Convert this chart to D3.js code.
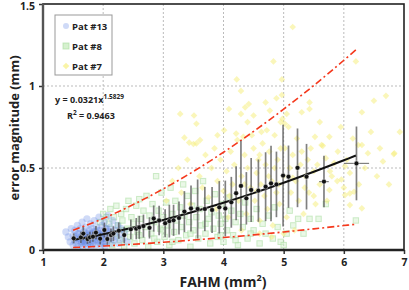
<!DOCTYPE html>
<html>
<head>
<meta charset="utf-8">
<script src="https://cdn.jsdelivr.net/npm/d3@7"></script>
<style>
body{margin:0;background:#fff;}
svg text{font-family:"Open Sans","Liberation Sans",sans-serif;font-weight:bold;fill:#222;}
</style>
</head>
<body>
<div id="chart"></div>
<script>
// scatter points [FAHM, error]
var pat13=[[1.38,0.11],[1.42,0.08],[1.45,0.05],[1.47,0.13],[1.5,0.03],[1.5,0.09],[1.52,0.06],[1.53,0.12],[1.55,0.04],[1.56,0.08],[1.57,0.15],[1.58,0.02],[1.6,0.06],[1.6,0.1],[1.62,0.13],[1.63,0.04],[1.64,0.08],[1.65,0.17],[1.66,0.02],[1.67,0.06],[1.68,0.11],[1.7,0.04],[1.7,0.09],[1.71,0.14],[1.72,0.07],[1.73,0.19],[1.74,0.03],[1.75,0.1],[1.76,0.05],[1.77,0.12],[1.78,0.08],[1.79,0.16],[1.8,0.02],[1.8,0.06],[1.81,0.1],[1.82,0.13],[1.83,0.04],[1.84,0.08],[1.85,0.18],[1.86,0.06],[1.87,0.11],[1.88,0.03],[1.89,0.14],[1.9,0.08],[1.91,0.05],[1.92,0.1],[1.93,0.2],[1.94,0.07],[1.95,0.12],[1.96,0.03],[1.97,0.09],[1.98,0.15],[1.99,0.05],[2.0,0.11],[2.01,0.07],[2.02,0.17],[2.03,0.02],[2.04,0.13],[2.05,0.09],[2.06,0.05],[2.08,0.21],[2.09,0.11],[2.1,0.07],[2.12,0.14],[2.13,0.04],[2.15,0.1],[2.16,0.18],[2.18,0.06],[2.2,0.12],[2.22,0.08],[2.24,0.15],[2.26,0.04],[2.28,0.1],[2.3,0.13],[2.33,0.07],[2.36,0.11],[2.4,0.05],[1.62,0.07],[1.68,0.05],[1.74,0.09],[1.78,0.04],[1.84,0.11],[1.9,0.12],[1.96,0.06],[2.0,0.04],[2.06,0.13],[1.72,0.1],[1.86,0.09],[1.94,0.1],[1.58,0.1],[1.66,0.09],[1.7,0.06],[1.76,0.08],[1.82,0.07],[1.88,0.09],[1.92,0.06],[1.98,0.08],[2.04,0.07],[2.1,0.1],[1.64,0.05],[1.54,0.07]];
var pat8=[[1.95,0.17],[2.0,0.22],[2.05,0.2],[2.1,0.16],[2.12,0.25],[2.15,0.03],[2.18,0.2],[2.2,0.1],[2.22,0.27],[2.25,0.15],[2.28,0.06],[2.3,0.22],[2.32,0.18],[2.35,0.02],[2.38,0.25],[2.4,0.13],[2.42,0.3],[2.45,0.08],[2.47,0.2],[2.5,0.16],[2.52,0.04],[2.55,0.27],[2.57,0.11],[2.6,0.31],[2.62,0.19],[2.65,0.06],[2.67,0.24],[2.7,0.14],[2.72,0.33],[2.75,0.02],[2.77,0.21],[2.8,0.1],[2.82,0.28],[2.85,0.17],[2.88,0.45],[2.9,0.05],[2.92,0.24],[2.95,0.13],[2.97,0.35],[3.0,0.2],[3.02,0.08],[3.05,0.29],[3.08,0.15],[3.1,0.03],[3.12,0.38],[3.15,0.22],[3.18,0.11],[3.2,0.3],[3.23,0.18],[3.25,0.06],[3.28,0.26],[3.3,0.14],[3.33,0.4],[3.35,0.21],[3.38,0.09],[3.4,0.33],[3.43,0.17],[3.45,0.02],[3.48,0.27],[3.5,0.12],[3.53,0.36],[3.55,0.2],[3.58,0.07],[3.6,0.25],[3.63,0.15],[3.66,0.42],[3.7,0.1],[3.72,0.3],[3.75,0.19],[3.78,0.04],[3.8,0.23],[3.83,0.13],[3.86,0.34],[3.9,0.08],[3.92,0.21],[3.95,0.16],[3.98,0.28],[4.0,0.05],[4.03,0.19],[4.06,0.12],[4.1,0.32],[4.13,0.24],[4.16,0.09],[4.2,0.17],[4.24,0.03],[4.28,0.22],[4.32,0.14],[4.36,0.29],[4.4,0.07],[4.45,0.19],[4.5,0.12],[4.55,0.25],[4.6,0.04],[4.65,0.16],[4.7,0.1],[4.75,0.21],[4.82,0.07],[4.9,0.14],[4.95,0.05],[5.05,0.1],[5.1,0.24],[5.16,0.15],[5.24,0.19],[5.33,0.1],[5.43,0.19],[5.58,0.19],[5.7,0.28],[6.2,0.18],[5.0,0.03],[4.85,0.26],[2.6,0.09],[2.85,0.07],[3.15,0.05],[3.45,0.1],[3.7,0.16],[3.95,0.09],[4.2,0.06],[4.45,0.1],[2.35,0.12],[3.0,0.12]];
var pat7=[[4.22,1.04],[4.29,0.97],[4.09,0.86],[4.36,0.87],[4.42,0.89],[4.29,0.83],[3.28,0.83],[3.51,0.82],[3.55,0.77],[3.35,0.685],[3.43,0.655],[3.5,0.646],[3.55,0.65],[3.61,0.67],[4.01,0.73],[4.21,0.71],[4.23,0.67],[4.33,0.69],[4.47,0.7],[4.63,0.72],[4.72,0.73],[5.15,1.36],[4.83,1.15],[6.2,1.15],[4.97,1.04],[4.88,0.925],[4.97,0.945],[5.43,0.9],[5.43,0.86],[5.3,0.84],[6.5,0.91],[6.7,0.94],[6.3,0.84],[6.93,0.72],[5.76,0.69],[5.52,0.69],[5.63,0.64],[6.3,0.64],[4.77,0.85],[6.6,0.62],[6.83,0.585],[6.65,0.54],[5.65,0.635],[6.1,0.47],[6.02,0.51],[5.96,0.43],[5.89,0.42],[5.77,0.48],[5.84,0.53],[5.76,0.366],[6.02,0.335],[6.1,0.345],[6.17,0.355],[6.1,0.274],[6.3,0.254],[6.24,0.64],[6.4,0.59],[6.84,0.59],[3.05,0.3],[3.15,0.42],[3.25,0.5],[3.3,0.35],[3.4,0.55],[3.45,0.28],[3.6,0.45],[3.65,0.38],[3.7,0.58],[3.75,0.32],[3.8,0.5],[3.85,0.62],[3.88,0.25],[3.9,0.42],[3.95,0.55],[4.0,0.36],[4.05,0.48],[4.08,0.2],[4.12,0.6],[4.15,0.4],[4.18,0.52],[4.25,0.3],[4.3,0.45],[4.35,0.58],[4.38,0.22],[4.4,0.5],[4.45,0.38],[4.5,0.62],[4.52,0.3],[4.55,0.47],[4.58,0.55],[4.6,0.18],[4.62,0.4],[4.65,0.65],[4.68,0.33],[4.7,0.52],[4.73,0.25],[4.76,0.6],[4.8,0.42],[4.82,0.15],[4.85,0.7],[4.88,0.35],[4.9,0.55],[4.93,0.28],[4.95,0.78],[5.0,0.45],[5.02,0.62],[5.05,0.2],[5.08,0.75],[5.1,0.5],[5.12,0.35],[5.15,0.58],[5.18,0.12],[5.2,0.42],[5.22,0.68],[5.25,0.3],[5.28,0.52],[5.3,0.6],[5.33,0.22],[5.36,0.45],[5.4,0.55],[5.42,0.35],[5.45,0.62],[5.5,0.48],[5.53,0.28],[5.56,0.52],[5.6,0.4],[5.7,0.56],[5.72,0.3],[5.8,0.45],[5.9,0.6],[6.0,0.38],[6.05,0.55],[4.8,0.08],[4.6,0.1],[4.3,0.12],[5.0,0.1],[4.95,0.62],[5.05,0.83],[4.98,0.8],[5.02,0.77],[4.4,0.78],[4.5,0.82],[3.9,0.7],[4.7,0.9],[5.6,0.78],[5.95,0.75],[6.15,0.68],[6.45,0.72],[6.35,0.5],[6.55,0.45],[6.75,0.4],[6.25,0.4],[4.1,0.33],[4.35,0.4],[4.55,0.36],[4.75,0.45],[4.92,0.4],[5.15,0.44],[5.35,0.38],[5.5,0.33],[4.6,0.58],[4.85,0.5]];

// binned means with error bars
var meanX=[1.51,1.63,1.67,1.74,1.78,1.83,1.88,1.95,2.02,2.07,2.13,2.17,2.26,2.35,2.46,2.55,2.60,2.67,2.77,2.84,2.93,3.03,3.10,3.17,3.26,3.35,3.46,3.57,3.69,3.81,3.93,4.03,4.13,4.21,4.29,4.38,4.46,4.58,4.70,4.79,4.88,4.99,5.08,5.23,5.38,5.67,6.21];
var meanY=[0.071,0.077,0.10,0.067,0.077,0.081,0.106,0.069,0.122,0.067,0.091,0.10,0.118,0.091,0.126,0.13,0.138,0.146,0.135,0.192,0.18,0.163,0.176,0.181,0.195,0.234,0.253,0.25,0.25,0.244,0.26,0.253,0.291,0.346,0.391,0.315,0.366,0.362,0.386,0.406,0.40,0.454,0.447,0.501,0.447,0.417,0.528];
var errY=[0.03,0.035,0.04,0.03,0.035,0.03,0.04,0.035,0.045,0.035,0.04,0.045,0.05,0.05,0.06,0.065,0.07,0.07,0.065,0.08,0.09,0.085,0.1,0.095,0.1,0.125,0.14,0.18,0.135,0.14,0.16,0.17,0.155,0.165,0.275,0.16,0.195,0.19,0.21,0.23,0.2,0.31,0.19,0.24,0.2,0.157,0.225];
var errX=[0,0,0,0,0,0,0,0,0,0,0,0,0,0,0,0,0,0,0,0,0,0,0,0,0,0,0,0,0,0,0,0,0,0,0,0,0,0,0,0,0,0,0,0,0,0.08,0.21];

// power fit and envelope
var curveX=[1.5,2,2.5,3,3.5,4,4.5,5,5.5,6,6.2];
var fitY=[0.061,0.096,0.137,0.183,0.233,0.288,0.347,0.410,0.477,0.547,0.576];
var upperY=[0.12,0.192,0.277,0.373,0.479,0.596,0.723,0.859,1.003,1.157,1.22];
var lowerY=[0.015,0.024,0.035,0.047,0.061,0.076,0.092,0.110,0.129,0.149,0.157];

var xTicks=[1,2,3,4,5,6,7];
var yTicks=[0,0.5,1,1.5];
var series=["Pat #13","Pat #8","Pat #7"];

var W=409,H=290;
var svg=d3.select("#chart").append("svg").attr("width",W).attr("height",H);
var x=d3.scaleLinear().domain([1,7]).range([43,404]);
var y=d3.scaleLinear().domain([0,1.5]).range([250,4]);
var diamond=d3.symbol(d3.symbolSquare,22);

// grid
svg.selectAll("line.vg").data([2,3,4,5,6]).enter().append("line")
	.attr("x1",d=>x(d)).attr("x2",d=>x(d)).attr("y1",y(0)).attr("y2",y(1.5))
	.attr("stroke","#bbb").attr("stroke-width",1).attr("stroke-dasharray","2,2");
svg.selectAll("line.hg").data([0.5,1]).enter().append("line")
	.attr("x1",x(1)).attr("x2",x(7)).attr("y1",d=>y(d)).attr("y2",d=>y(d))
	.attr("stroke","#bbb").attr("stroke-width",1).attr("stroke-dasharray","2,2");

// scatter
svg.append("g").selectAll("rect").data(pat8).enter().append("rect")
	.attr("x",d=>x(d[0])-2.7).attr("y",d=>y(d[1])-2.7).attr("width",5.4).attr("height",5.4)
	.attr("fill","#d6f1cf").attr("fill-opacity",0.5).attr("stroke","#a8dc9f").attr("stroke-opacity",0.55).attr("stroke-width",1);
svg.append("g").selectAll("path").data(pat7).enter().append("path")
	.attr("d",diamond)
	.attr("transform",d=>"translate("+x(d[0])+","+y(d[1])+") rotate(45)")
	.attr("fill","#f6ef82").attr("fill-opacity",0.55);
svg.append("g").selectAll("circle").data(pat13).enter().append("circle")
	.attr("cx",d=>x(d[0])).attr("cy",d=>y(d[1])).attr("r",3.6)
	.attr("fill","#5f86e6").attr("fill-opacity",0.3);

// envelope lines
var line=d3.line().curve(d3.curveCatmullRom);
[upperY,lowerY].forEach(function(ys){
	svg.append("path").attr("d",line(curveX.map((v,i)=>[x(v),y(ys[i])])))
		.attr("fill","none").attr("stroke","#f5381c").attr("stroke-width",1.6)
		.attr("stroke-dasharray","7,3,2,3");
});

// error bars
var bars=svg.append("g");
bars.selectAll("line.ev").data(meanX).enter().append("line")
	.attr("x1",d=>x(d)).attr("x2",d=>x(d))
	.attr("y1",(d,i)=>y(meanY[i]-errY[i])).attr("y2",(d,i)=>y(meanY[i]+errY[i]))
	.attr("stroke","#555").attr("stroke-opacity",0.75).attr("stroke-width",1.7);
bars.selectAll("line.eh").data(meanX.filter((d,i)=>errX[i]>0)).enter().append("line")
	.attr("x1",d=>x(d-errX[meanX.indexOf(d)])).attr("x2",d=>x(d+errX[meanX.indexOf(d)]))
	.attr("y1",d=>y(meanY[meanX.indexOf(d)])).attr("y2",d=>y(meanY[meanX.indexOf(d)]))
	.attr("stroke","#555").attr("stroke-opacity",0.75).attr("stroke-width",1.2);

// fit line
svg.append("path").attr("d",line(curveX.map((v,i)=>[x(v),y(fitY[i])])))
	.attr("fill","none").attr("stroke","#111").attr("stroke-width",2);

// means
svg.append("g").selectAll("circle").data(meanX).enter().append("circle")
	.attr("cx",d=>x(d)).attr("cy",(d,i)=>y(meanY[i])).attr("r",2.4)
	.attr("fill","#111").attr("stroke","#fff").attr("stroke-width",0.4);

// axes and frame
var xAxis=svg.append("g").attr("transform","translate(0,"+y(0)+")")
	.call(d3.axisBottom(x).tickValues(xTicks).tickSize(4).tickFormat(d3.format("d")));
var yAxis=svg.append("g").attr("transform","translate("+x(1)+",0)")
	.call(d3.axisLeft(y).tickValues(yTicks).tickSize(4).tickFormat(d=>d));
xAxis.select(".domain").remove();
yAxis.select(".domain").remove();
xAxis.selectAll("line").attr("stroke","#333").attr("stroke-width",1.5);
yAxis.selectAll("line").attr("stroke","#333").attr("stroke-width",1.5);
xAxis.selectAll("text").attr("font-size",10.5).attr("dy","0.9em");
yAxis.selectAll("text").attr("font-size",10.5).attr("dx","-1").attr("dy",d=>d==1.5?"0.5em":"0.32em");
svg.append("rect").attr("x",x(1)).attr("y",y(1.5)).attr("width",x(7)-x(1)).attr("height",y(0)-y(1.5))
	.attr("fill","none").attr("stroke","#222").attr("stroke-width",1.6);
svg.append("line").attr("x1",x(1)).attr("x2",x(7)).attr("y1",y(0)).attr("y2",y(0))
	.attr("stroke","#222").attr("stroke-width",2.4);
svg.append("line").attr("x1",x(1)).attr("x2",x(1)).attr("y1",y(0)).attr("y2",y(1.5))
	.attr("stroke","#555").attr("stroke-width",2.4);

// axis titles
var xt=svg.append("text").attr("x",223).attr("y",287).attr("text-anchor","middle").attr("font-size",14);
xt.append("tspan").text("FAHM (mm");
xt.append("tspan").attr("font-size",9).attr("dy",-6).text("2");
xt.append("tspan").attr("dy",6).text(")");
svg.append("text").attr("transform","translate(19,128) rotate(-90)").attr("text-anchor","middle")
	.attr("font-size",13).text("error magnitude (mm)");

// legend
var lg=svg.append("g");
lg.append("rect").attr("x",55).attr("y",15).attr("width",57).attr("height",60)
	.attr("fill","#fff").attr("stroke","#999").attr("stroke-width",1);
series.forEach(function(s,i){
	var cy=26+i*20;
	if(i==0) lg.append("circle").attr("cx",66).attr("cy",cy).attr("r",3).attr("fill","#5f86e6").attr("fill-opacity",0.3);
	if(i==1) lg.append("rect").attr("x",63).attr("y",cy-3).attr("width",6).attr("height",6).attr("fill","#d6f1cf").attr("stroke","#a8dc9f").attr("stroke-opacity",0.6);
	if(i==2) lg.append("path").attr("d",diamond).attr("transform","translate(66,"+cy+") rotate(45)").attr("fill","#f6ef82").attr("fill-opacity",0.7);
	lg.append("text").attr("x",72).attr("y",cy+3.5).attr("font-size",9.5).text(s);
});

// equation
var eq=svg.append("text").attr("x",55).attr("y",103).attr("font-size",9);
eq.append("tspan").text("y = 0.0321x");
eq.append("tspan").attr("font-size",6.5).attr("dy",-4).text("1.5829");
var r2=svg.append("text").attr("x",67).attr("y",119).attr("font-size",9);
r2.append("tspan").text("R");
r2.append("tspan").attr("font-size",6.5).attr("dy",-4).text("2");
r2.append("tspan").attr("dy",4).text(" = 0.9463");
</script>
</body>
</html>
